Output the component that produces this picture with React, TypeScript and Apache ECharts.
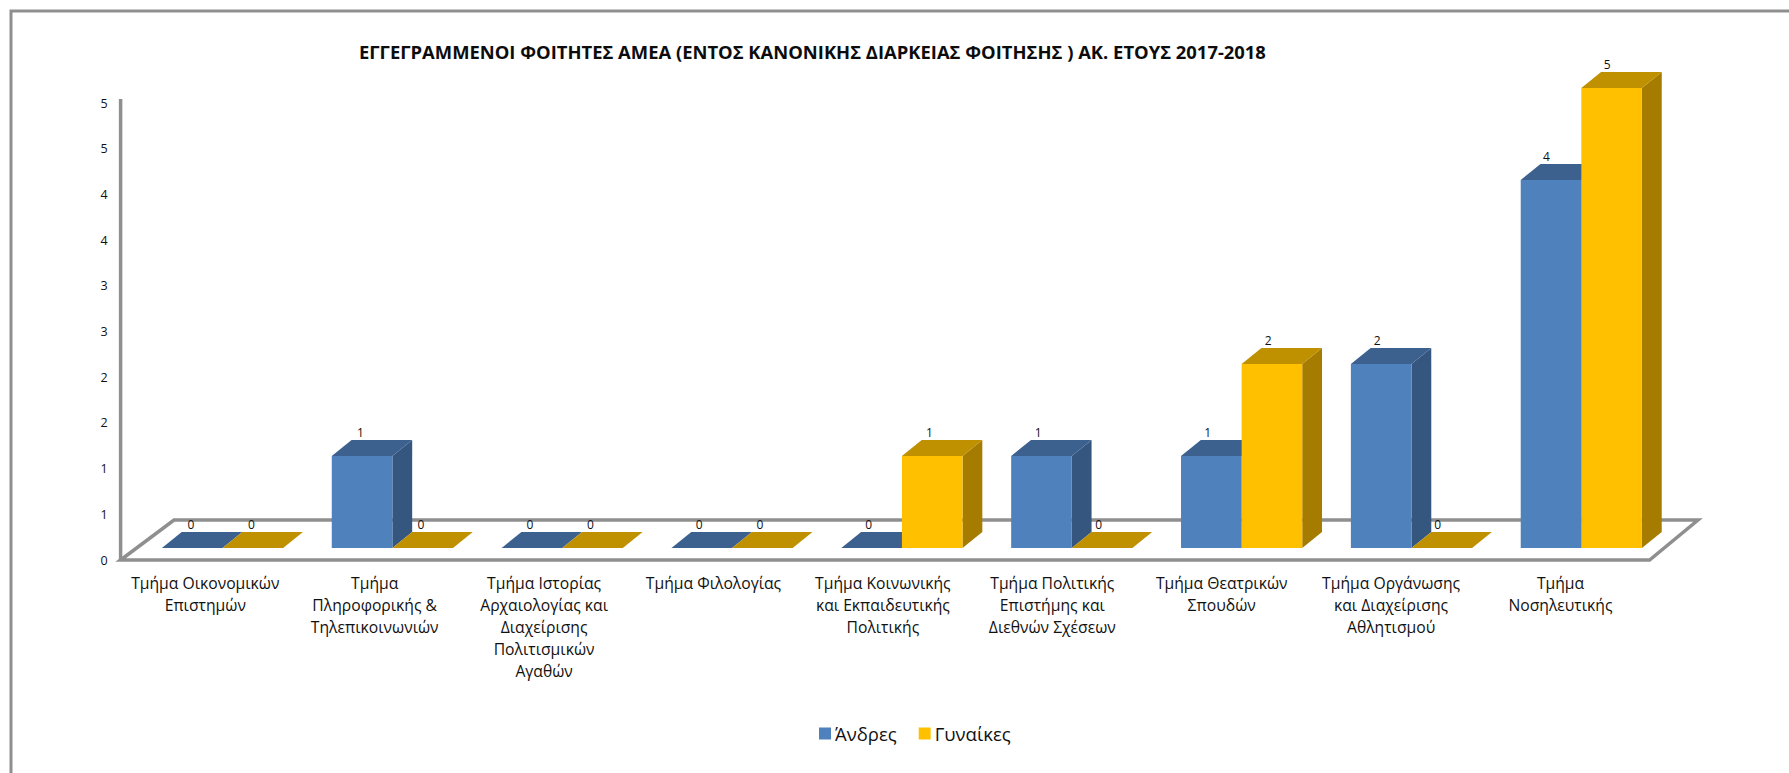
import React, { useEffect, useRef } from "react";
import * as echarts from "echarts";

const TITLE = "ΕΓΓΕΓΡΑΜΜΕΝΟΙ ΦΟΙΤΗΤΕΣ ΑΜΕΑ (ΕΝΤΟΣ ΚΑΝΟΝΙΚΗΣ ΔΙΑΡΚΕΙΑΣ ΦΟΙΤΗΣΗΣ ) ΑΚ. ΕΤΟΥΣ 2017-2018";
const categories = [
  "Τμήμα Οικονομικών\nΕπιστημών",
  "Τμήμα\nΠληροφορικής &\nΤηλεπικοινωνιών",
  "Τμήμα Ιστορίας\nΑρχαιολογίας και\nΔιαχείρισης\nΠολιτισμικών\nΑγαθών",
  "Τμήμα Φιλολογίας",
  "Τμήμα Κοινωνικής\nκαι Εκπαιδευτικής\nΠολιτικής",
  "Τμήμα Πολιτικής\nΕπιστήμης και\nΔιεθνών Σχέσεων",
  "Τμήμα Θεατρικών\nΣπουδών",
  "Τμήμα Οργάνωσης\nκαι Διαχείρισης\nΑθλητισμού",
  "Τμήμα\nΝοσηλευτικής",
];
const men = [0, 1, 0, 0, 0, 1, 1, 2, 4];
const women = [0, 0, 0, 0, 1, 0, 2, 0, 5];
const FONT = "Open Sans";
const GRAY = "#8f8f8f";

const makeRender = (side: number, front: string, top: string, right: string) => (params: any, api: any) => {
  const i = api.value(0);
  const v = api.value(1);
  const band = api.size([1, 0])[0];
  const w = band * (60.6 / 169.85);
  const dx = 19.8;
  const dy = 16;
  const c = api.coord([i, v]);
  const b = api.coord([i, 0]);
  const x0 = side < 0 ? c[0] - w : c[0];
  const x1 = x0 + w;
  const yt = c[1];
  const yb = b[1];
  const children: any[] = [];
  if (v > 0) {
    children.push({ type: "polygon", shape: { points: [[x1, yt], [x1 + dx, yt - dy], [x1 + dx, yb - dy], [x1, yb]] }, style: { fill: right } });
    children.push({ type: "rect", shape: { x: x0, y: yt, width: w, height: yb - yt }, style: { fill: front } });
  }
  children.push({ type: "polygon", shape: { points: [[x0, yt], [x0 + dx, yt - dy], [x1 + dx, yt - dy], [x1, yt]] }, style: { fill: top } });
  children.push({
    type: "text",
    style: {
      x: x0 + w / 2 - 1.3 - 0.4 * i,
      y: yt - dy - 8,
      text: String(v),
      fill: "#111",
      font: `12px "${FONT}"`,
      align: "center",
      verticalAlign: "middle",
    },
  });
  return { type: "group", children };
};

export default function App() {
  const ref = useRef<HTMLDivElement>(null);
  useEffect(() => {
    const chart = echarts.init(ref.current!, null, { renderer: "svg" });
    chart.setOption({
      animation: false,
      backgroundColor: "#fff",
      textStyle: { fontFamily: FONT },
      title: {
        text: TITLE,
        left: 359,
        top: 42,
        padding: 0,
        textStyle: { fontFamily: FONT, fontSize: 18.4, fontWeight: "bold", color: "#0c0c0c" },
      },
      legend: {
        left: 819,
        top: 724,
        padding: 0,
        icon: "rect",
        itemWidth: 12,
        itemHeight: 12,
        itemGap: 22,
        textStyle: { fontFamily: FONT, fontSize: 18.5, color: "#111", padding: [0, 0, 0, -1] },
        data: ["Άνδρες", "Γυναίκες"],
      },
      grid: [
        { left: 120.6, width: 1524.6, top: 103, height: 457 },
        { left: 137.6, width: 1528.65, top: 88, height: 460 },
      ],
      xAxis: [
        {
          type: "category",
          gridIndex: 0,
          data: categories,
          axisTick: { show: false },
          axisLine: { show: false },
          axisLabel: { interval: 0, margin: 12, fontFamily: FONT, fontSize: 15.7, lineHeight: 22, color: "#111" },
        },
        { type: "category", gridIndex: 1, data: categories, show: false },
      ],
      yAxis: [
        {
          type: "value",
          gridIndex: 0,
          min: 0,
          max: 5,
          interval: 0.5,
          axisLine: { show: false },
          axisTick: { show: false },
          splitLine: { show: false },
          axisLabel: { margin: 13, fontFamily: FONT, fontSize: 12.5, color: "#111", formatter: (v: number) => String(Math.round(v)) },
        },
        { type: "value", gridIndex: 1, min: 0, max: 5, show: false, splitLine: { show: false } },
      ],
      graphic: [
        { type: "polyline", z: 0, shape: { points: [[11, 773], [11, 11], [1789, 11]] }, style: { stroke: GRAY, lineWidth: 3, fill: "none" } },
        { type: "line", z: 0, shape: { x1: 120.6, y1: 99, x2: 120.6, y2: 561 }, style: { stroke: GRAY, lineWidth: 3.5 } },
        { type: "polygon", z: 0, shape: { points: [[120.6, 560], [174, 520], [1698, 520], [1649.6, 560]] }, style: { stroke: GRAY, lineWidth: 3.5, fill: "none" } },
      ],
      series: [
        {
          name: "Άνδρες",
          type: "custom",
          xAxisIndex: 1,
          yAxisIndex: 1,
          itemStyle: { color: "#4F81BD" },
          encode: { x: 0, y: 1 },
          data: men.map((v, i) => [i, v]),
          renderItem: makeRender(-1, "#4F81BD", "#3C618F", "#34567F"),
          z: 3,
        },
        {
          name: "Γυναίκες",
          type: "custom",
          xAxisIndex: 1,
          yAxisIndex: 1,
          itemStyle: { color: "#FFC000" },
          encode: { x: 0, y: 1 },
          data: women.map((v, i) => [i, v]),
          renderItem: makeRender(1, "#FFC000", "#BF9000", "#A67C00"),
          z: 4,
        },
      ],
    });
    return () => chart.dispose();
  }, []);
  return <div ref={ref} style={{ position: "absolute", left: 0, top: 0, width: 1789, height: 773 }} />;
}
